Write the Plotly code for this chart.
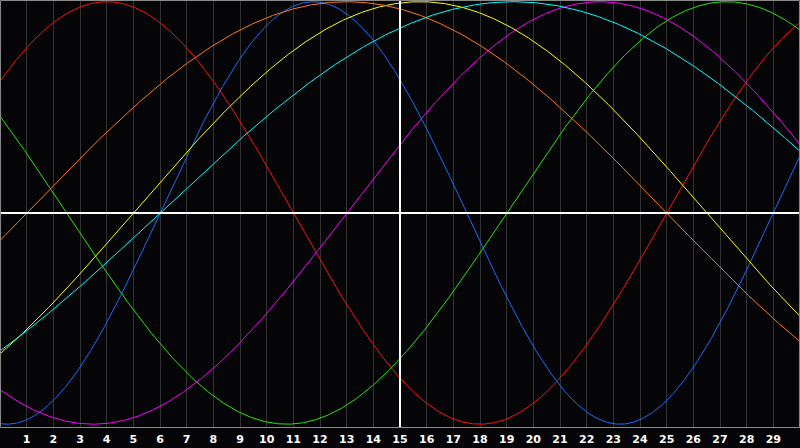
import numpy as np
import plotly.graph_objects as go

# Biorhythm-style cycles
cycle_names = ["Physical", "Emotional", "Intellectual", "Intuitive", "Aesthetic", "Awareness", "Spiritual"]
periods = [23, 28, 33, 38, 43, 48, 53]            # cycle length in days
zero_up_days = [6.0, 25.0, 19.0, 13.0, 5.0, 1.0, 6.0]  # day where the curve crosses zero going up
colors = ["#1a6cff", "#ff1010", "#2ae600", "#ff00ff", "#ffff00", "#ff7a10", "#00ffff"]

day_labels = [str(d) for d in range(1, 30)]
day_ticks = list(range(1, 30))
today = 15
days_span = [0, 30]

fig = go.Figure()
t = np.linspace(days_span[0], days_span[1], 1201)
for name, p, z, c in zip(cycle_names, periods, zero_up_days, colors):
    fig.add_trace(go.Scatter(x=t, y=np.sin(2 * np.pi * (t - z) / p), mode="lines",
                             name=name, line=dict(color=c, width=1), hoverinfo="skip"))

bg = "#050508"
fig.update_layout(
    width=800, height=448,
    margin=dict(l=0, r=0, t=0, b=20, pad=0),
    paper_bgcolor=bg, plot_bgcolor=bg,
    showlegend=False,
    xaxis=dict(range=days_span, tickvals=day_ticks,
               ticktext=["<b>%s</b>" % s for s in day_labels],
               showgrid=True, gridcolor="#333333", gridwidth=1,
               zeroline=False, showline=False, ticks="",
               ticklabelstandoff=3,
               tickfont=dict(family="DejaVu Sans, Verdana, sans-serif", size=11, color="white"),
               fixedrange=True),
    yaxis=dict(range=[-1.018, 1.008], showgrid=False, zeroline=False,
               showticklabels=False, ticks="", showline=False, fixedrange=True),
)

# zero line and today line
fig.add_shape(type="line", xref="paper", yref="y", x0=0, x1=1, y0=0, y1=0,
              line=dict(color="white", width=2), layer="above")
fig.add_shape(type="line", xref="x", yref="paper", x0=today, x1=today, y0=0, y1=1,
              line=dict(color="white", width=2), layer="above")
# frame
fig.add_shape(type="rect", xref="paper", yref="paper",
              x0=0.5 / 800, x1=1 - 0.5 / 800, y0=0.5 / 428, y1=1 - 0.5 / 428,
              line=dict(color="#8a8a8a", width=1), layer="above")

fig.write_html("out.html", config={"displayModeBar": False},
               post_script="document.body.style.margin='0';document.body.style.padding='0';"
                           "document.body.style.background='#050508';")
